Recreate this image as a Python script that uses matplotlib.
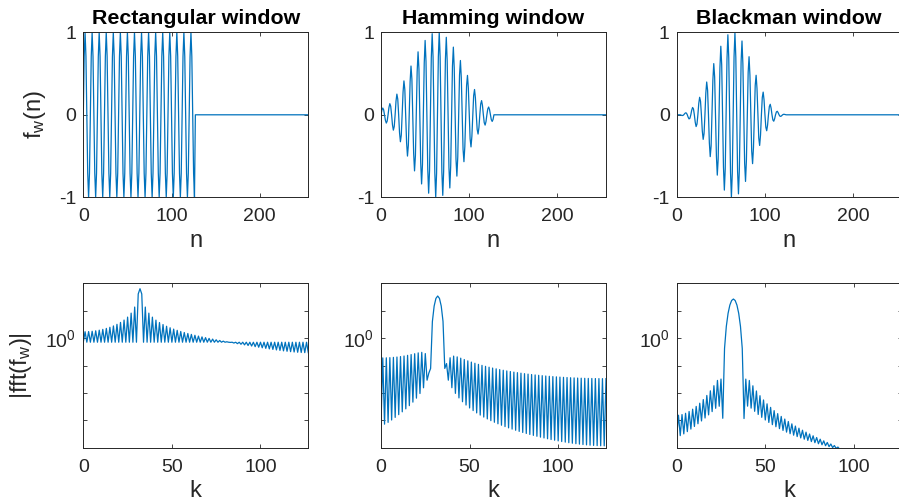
import numpy as np
import matplotlib
matplotlib.use("Agg")
import matplotlib.pyplot as plt
from matplotlib.ticker import FixedLocator, NullLocator, FixedFormatter

# ---- chart data / parameters ----
titles = ["Rectangular window", "Hamming window", "Blackman window"]
window_names = ["rect", "hamming", "blackman"]
samples_per_period = 8          # sinusoid period in samples
window_length = 128             # length of the window
fft_length = 256                # zero-padded length
n_fft_shown = 128               # bins shown, k = 0..127
top_yticks = [-1, 0, 1]
top_xticks = [0, 100, 200]
bottom_xticks = [0, 50, 100]
bottom_ydecades = [1e-4, 1e-3, 1e-2, 1e-1, 1e0, 1e1, 1e2]
bottom_ylabels = ["", "", "", "", r"$10^0$", "", ""]


def make_window(name, L):
    m = np.arange(L)
    if name == "rect":
        w = np.ones(L)
        w[0] = 0.0
        w[-1] = 0.0
        return w
    if name == "hamming":
        return 0.54 - 0.46 * np.cos(2 * np.pi * m / (L - 1))
    w = 0.42 - 0.5 * np.cos(2 * np.pi * m / (L - 1)) + 0.08 * np.cos(4 * np.pi * m / (L - 1))
    w[0] = 0.0
    w[-1] = 0.0
    return w


n = np.arange(fft_length)
k = np.arange(n_fft_shown)
signal = np.sin(2 * np.pi * n / samples_per_period)

plt.rcParams["font.family"] = ["Liberation Sans", "DejaVu Sans"]
plt.rcParams["mathtext.default"] = "regular"
plt.rcParams["axes.linewidth"] = 0.7
plt.rcParams["axes.unicode_minus"] = False

line_color = "#0072BD"
frame_color = "#262626"
tick_fs = 14
title_fs = 15.4
label_fs = 17

W, H = 899, 504
fig = plt.figure(figsize=(W / 100, H / 100), dpi=100)

lefts = [83.3, 381.0, 676.7]
width = 225.0
top_row = (32.3, 197.3)
bot_row = (283.3, 447.7)

for i, name in enumerate(window_names):
    w = np.zeros(fft_length)
    w[:window_length] = make_window(name, window_length)
    fw = signal * w
    F = np.abs(np.fft.fft(fw, fft_length))[:n_fft_shown]

    ax1 = fig.add_axes([lefts[i] / W, 1 - top_row[1] / H, width / W, (top_row[1] - top_row[0]) / H])
    ax1.plot(n, fw, color=line_color, lw=0.9)
    ax1.set_xlim(0, fft_length - 1)
    ax1.set_ylim(-1, 1)
    ax1.set_xticks(top_xticks)
    ax1.set_yticks(top_yticks)
    ax1.set_title(titles[i], fontsize=title_fs, fontweight="bold", pad=6, color="black")
    ax1.set_xlabel("n", fontsize=label_fs, color=frame_color, labelpad=3)
    if i == 0:
        ax1.set_ylabel(r"f$_w$(n)", fontsize=label_fs, color=frame_color, labelpad=8)

    ax2 = fig.add_axes([lefts[i] / W, 1 - bot_row[1] / H, width / W, (bot_row[1] - bot_row[0]) / H])
    ax2.plot(k, F, color=line_color, lw=0.9)
    ax2.set_yscale("log")
    ax2.set_xlim(0, n_fft_shown - 1)
    ax2.set_ylim(1e-4, 1e2)
    ax2.set_xticks(bottom_xticks)
    ax2.yaxis.set_major_locator(FixedLocator(bottom_ydecades))
    ax2.yaxis.set_major_formatter(FixedFormatter(bottom_ylabels))
    ax2.yaxis.set_minor_locator(NullLocator())
    ax2.set_xlabel("k", fontsize=label_fs, color=frame_color, labelpad=3)
    if i == 0:
        ax2.set_ylabel(r"|fft(f$_w$)|", fontsize=label_fs, color=frame_color, labelpad=8)

    for ax in (ax1, ax2):
        ax.tick_params(direction="in", length=3, width=0.6, top=True, right=True,
                       labelsize=tick_fs, colors=frame_color)
        ax.tick_params(axis="x", pad=8)
        ax.tick_params(axis="y", pad=5)
        for s in ax.spines.values():
            s.set_color(frame_color)

fig.savefig("out.png", dpi=100)
